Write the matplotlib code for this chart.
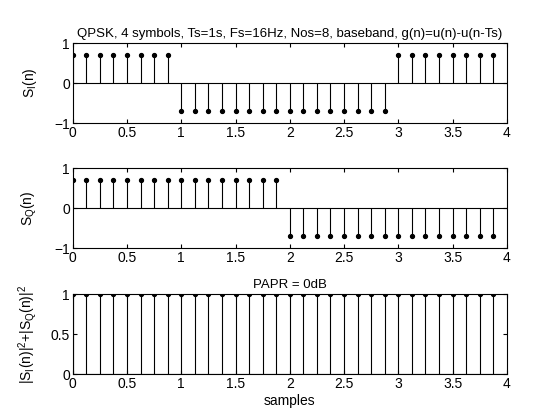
import matplotlib
matplotlib.use('Agg')
import matplotlib.pyplot as plt
import numpy as np

plt.rcParams['font.family'] = ['Liberation Sans', 'DejaVu Sans']
plt.rcParams['font.size'] = 10

# QPSK, 4 symbols, Nos = 8 samples per symbol
t = np.arange(32) / 8.0
s_i = [0.7071] * 8 + [-0.7071] * 16 + [0.7071] * 8
s_q = [0.7071] * 16 + [-0.7071] * 16
power = [1.0] * 32

x_ticks = [0, 0.5, 1, 1.5, 2, 2.5, 3, 3.5, 4]
x_ticklabels = ['0', '0.5', '1', '1.5', '2', '2.5', '3', '3.5', '4']

fig = plt.figure(figsize=(5.6, 4.2), dpi=100)
ax1 = fig.add_axes([0.130, 0.707, 0.775, 0.1905])
ax2 = fig.add_axes([0.130, 0.4095, 0.775, 0.1905])
ax3 = fig.add_axes([0.130, 0.1095, 0.775, 0.1905])


def draw_stem(ax, y):
    ml, sl, bl = ax.stem(t, y, linefmt='k-', markerfmt='ko', basefmt=' ')
    plt.setp(sl, linewidth=0.8)
    plt.setp(ml, markersize=2.8)
    ax.axhline(0, color='k', linewidth=0.8, zorder=1)
    ax.set_xlim(0, 4)
    ax.set_xticks(x_ticks)
    ax.set_xticklabels(x_ticklabels)
    ax.tick_params(direction='in', top=True, right=True, length=3, width=0.8, pad=2)
    for sp in ax.spines.values():
        sp.set_linewidth(0.8)


draw_stem(ax1, s_i)
ax1.set_ylim(-1, 1)
ax1.set_yticks([-1, 0, 1])
ax1.set_ylabel('S$_\\mathregular{I}$(n)')
ax1.set_title('QPSK, 4 symbols, Ts=1s, Fs=16Hz, Nos=8, baseband, g(n)=u(n)-u(n-Ts)',
              fontsize=9.5, pad=4)

draw_stem(ax2, s_q)
ax2.set_ylim(-1, 1)
ax2.set_yticks([-1, 0, 1])
ax2.set_ylabel('S$_\\mathregular{Q}$(n)')

draw_stem(ax3, power)
ax3.set_ylim(0, 1)
ax3.set_yticks([0, 0.5, 1])
ax3.set_yticklabels(['0', '0.5', '1'])
ax3.set_ylabel('|S$_\\mathregular{I}$(n)|$^\\mathregular{2}$+|S$_\\mathregular{Q}$(n)|$^\\mathregular{2}$')
ax3.set_title('PAPR = 0dB', fontsize=9.5, pad=4)
ax3.set_xlabel('samples', labelpad=2)

for ax in (ax1, ax2, ax3):
    ax.yaxis.set_label_coords(-0.078, 0.5)

fig.savefig('out.png', dpi=100)
